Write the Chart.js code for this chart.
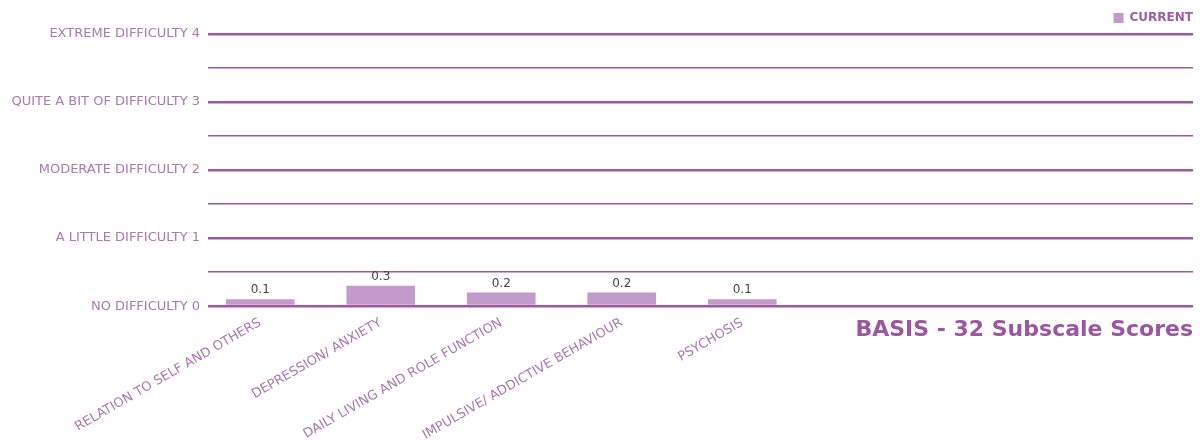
<!DOCTYPE html>
<html lang="en">
<head>
  <meta charset="UTF-8" />
  <title>BASIS - 32 Subscale Scores</title>
  <!-- Chart.js -->
  <script src="https://cdn.jsdelivr.net/npm/chart.js"></script>
  <style>
    html, body { margin: 0; padding: 0; background: #fff; }
    #wrap { position: relative; width: 1200px; height: 444px; }
  </style>
</head>
<body>
  <div id="wrap"><canvas id="subscaleChart"></canvas></div>

  <script>
    // data
    const categories = [
      "RELATION TO SELF AND OTHERS",
      "DEPRESSION/ ANXIETY",
      "DAILY LIVING AND ROLE FUNCTION",
      "IMPULSIVE/ ADDICTIVE BEHAVIOUR",
      "PSYCHOSIS",
      "", "", ""
    ];
    const currentScores = [0.1, 0.3, 0.2, 0.2, 0.1, null, null, null];
    const levelLabels = [
      "NO DIFFICULTY 0",
      "A LITTLE DIFFICULTY 1",
      "MODERATE DIFFICULTY 2",
      "QUITE A BIT OF DIFFICULTY 3",
      "EXTREME DIFFICULTY 4"
    ];
    const chartTitle = "BASIS - 32 Subscale Scores";

    const purple = "#9d58a2";
    const labelPurple = "#a878b2";
    const barPurple = "#c29bcb";
    const fontFamily = "'DejaVu Sans', sans-serif";

    // the category axis sits a bit left of the gridlines in the original,
    // and the legend hugs the right edge
    const layoutTweaks = {
      id: "layoutTweaks",
      afterLayout(chart) {
        const x = chart.scales.x;
        x.left = 200;
        x.right = 1164;
        x.width = x.right - x.left;
        x.configure();
        chart.legend.left += 10;
        chart.legend.right += 10;
      }
    };

    // value labels above bars + title under the axis
    const extrasPlugin = {
      id: "extras",
      afterDatasetsDraw(chart) {
        const ctx = chart.ctx;
        const meta = chart.getDatasetMeta(0);
        ctx.save();
        ctx.font = "12px " + fontFamily;
        ctx.fillStyle = "#444";
        ctx.textAlign = "center";
        ctx.textBaseline = "bottom";
        meta.data.forEach((bar, i) => {
          const v = currentScores[i];
          if (v === null) return;
          ctx.fillText(v.toFixed(1), bar.x, bar.y - 3);
        });
        ctx.font = "bold 22px " + fontFamily;
        ctx.fillStyle = "#9c55a0";
        ctx.textAlign = "right";
        ctx.textBaseline = "top";
        ctx.fillText(chartTitle, chart.chartArea.right, chart.chartArea.bottom + 13);
        ctx.restore();
      }
    };

    new Chart(document.getElementById("subscaleChart"), {
      type: "bar",
      data: {
        labels: categories,
        datasets: [{
          label: "CURRENT",
          data: currentScores,
          backgroundColor: barPurple,
          borderWidth: 0,
          barPercentage: 0.6,
          categoryPercentage: 0.95
        }]
      },
      options: {
        responsive: true,
        maintainAspectRatio: false,
        animation: false,
        layout: { padding: { left: 0, right: 7, top: 2, bottom: 0 } },
        plugins: {
          legend: {
            position: "top",
            align: "end",
            labels: {
              boxWidth: 10,
              boxHeight: 10,
              color: "#9a5fa4",
              font: { family: fontFamily, size: 12, weight: "bold" },
              padding: 10
            }
          },
          tooltip: { enabled: false }
        },
        scales: {
          y: {
            min: 0,
            max: 4,
            afterFit(scale) { scale.width = 208; },
            border: { display: false },
            grid: {
              drawTicks: false,
              color: purple,
              lineWidth: (c) => (Number.isInteger(c.tick.value) ? 2.6 : 1.4)
            },
            ticks: {
              stepSize: 0.5,
              padding: 8,
              color: labelPurple,
              font: { family: fontFamily, size: 13 },
              callback: (v) => (Number.isInteger(v) ? levelLabels[v] : "")
            }
          },
          x: {
            border: { display: false },
            grid: { display: false },
            ticks: {
              minRotation: 30,
              maxRotation: 30,
              autoSkip: false,
              padding: 1,
              color: labelPurple,
              font: { family: fontFamily, size: 13 }
            }
          }
        }
      },
      plugins: [layoutTweaks, extrasPlugin]
    });
  </script>
</body>
</html>
